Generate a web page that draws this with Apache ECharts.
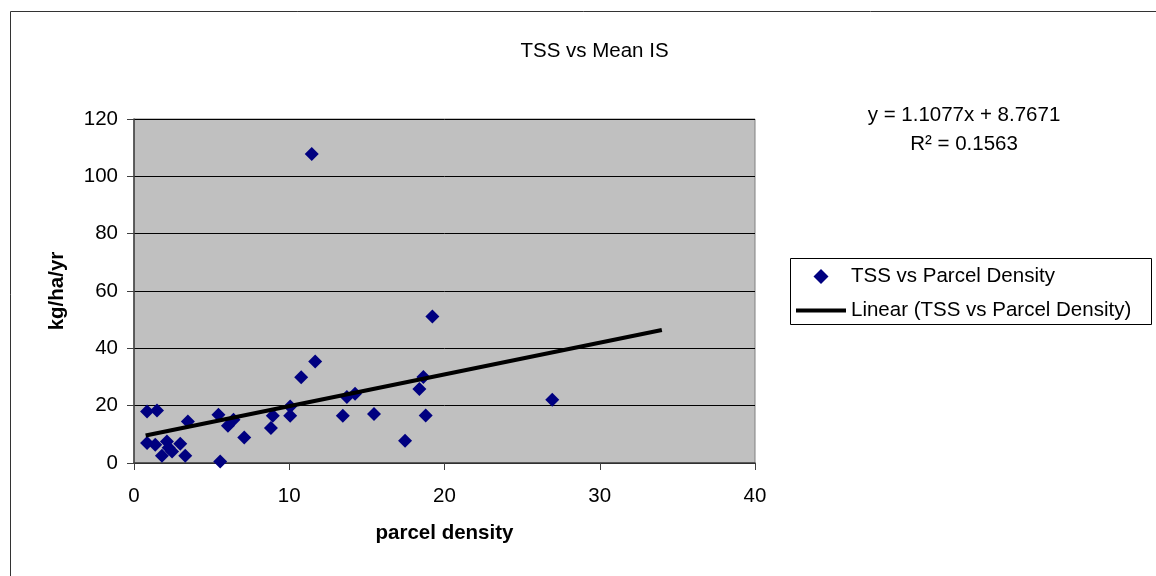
<!DOCTYPE html>
<html>
<head>
<meta charset="utf-8">
<script src="https://cdn.jsdelivr.net/npm/echarts@6/dist/echarts.min.js"></script>
<style>
html,body{margin:0;padding:0;background:#fff;}
#chart{width:1156px;height:576px;}
</style>
</head>
<body>
<div id="chart"></div>
<script>
// Data
const parcelDensity = [0.84,1.48,0.84,1.37,1.80,2.12,2.23,2.45,2.98,3.30,3.47,5.44,5.55,6.05,6.41,7.10,8.82,8.94,10.06,10.06,10.77,11.45,11.67,13.45,13.71,14.24,15.46,17.46,18.38,18.64,18.79,19.22,26.94];
const tss = [18.0,18.3,7.0,6.4,2.5,7.5,5.3,4.0,6.7,2.5,14.5,16.8,0.5,13.0,15.1,8.9,12.2,16.5,16.5,19.7,29.9,107.8,35.4,16.5,23.0,24.2,17.1,7.8,25.8,30.0,16.6,51.1,22.1];
const trendX = [0.75, 34];
const trendY = [9.6, 46.4];
const xTicks = [0, 10, 20, 30, 40];
const yTicks = [0, 20, 40, 60, 80, 100, 120];
const equationText = 'y = 1.1077x + 8.7671';
const r2Text = 'R\u00B2 = 0.1563';
const titleText = 'TSS vs Mean IS';
const seriesName = 'TSS vs Parcel Density';
const trendName = 'Linear (TSS vs Parcel Density)';

const FONT = '"Liberation Sans", Arial, sans-serif';
const FS = 20.5;

const chart = echarts.init(document.getElementById('chart'), null, {renderer: 'canvas'});
const option = {
  animation: false,
  backgroundColor: '#ffffff',
  title: {
    text: titleText,
    left: 589.5,
    textAlign: 'center',
    top: 36,
    textStyle: {fontFamily: FONT, fontSize: FS, fontWeight: 'normal', color: '#000'}
  },
  grid: {
    left: 134, top: 119, right: 401, bottom: 113,
    show: true, backgroundColor: '#C0C0C0', borderColor: '#808080', borderWidth: 1
  },
  xAxis: {
    type: 'value', min: xTicks[0], max: xTicks[xTicks.length - 1], interval: 10,
    name: 'parcel density', nameLocation: 'middle', nameGap: 60,
    nameTextStyle: {fontFamily: FONT, fontSize: FS, fontWeight: 'bold', color: '#000'},
    axisLine: {show: true, onZero: false, lineStyle: {color: '#404040', width: 1.5}},
    axisTick: {show: true, length: 7, lineStyle: {color: '#404040'}},
    axisLabel: {margin: 23, fontFamily: FONT, fontSize: FS, color: '#000'},
    splitLine: {show: false}
  },
  yAxis: {
    type: 'value', min: yTicks[0], max: yTicks[yTicks.length - 1], interval: 20,
    name: 'kg/ha/yr', nameLocation: 'middle', nameGap: 66, nameRotate: 90,
    nameTextStyle: {fontFamily: FONT, fontSize: FS, fontWeight: 'bold', color: '#000'},
    axisLine: {show: true, onZero: false, lineStyle: {color: '#404040', width: 1.5}},
    axisTick: {show: true, length: 7, lineStyle: {color: '#404040'}},
    axisLabel: {margin: 16, fontFamily: FONT, fontSize: FS, color: '#000'},
    splitLine: {show: true, lineStyle: {color: '#000', width: 1}}
  },
  legend: {
    orient: 'vertical', left: 791, top: 261,
    itemWidth: 50, itemHeight: 15, itemGap: 13,
    textStyle: {fontFamily: FONT, fontSize: FS, color: '#000', lineHeight: 20},
    data: [
      {name: seriesName, icon: 'path://M0,0M50,15M17.5,7.5L25,0L32.5,7.5L25,15Z'},
      {name: trendName, icon: 'path://M0,0h50v4h-50z'}
    ]
  },
  graphic: [
    {type: 'rect', shape: {x: 10.5, y: 11.5, width: 1200, height: 700}, style: {fill: 'none', stroke: '#333', lineWidth: 1}, silent: true, z: -1},
    {type: 'rect', shape: {x: 790.5, y: 258.5, width: 361, height: 66}, style: {fill: '#fff', stroke: '#000', lineWidth: 1}, silent: true, z: -1},
    {type: 'text', x: 964, y: 126, style: {text: equationText, font: FS + 'px ' + FONT, fill: '#000', textAlign: 'center', textVerticalAlign: 'bottom'}},
    {type: 'text', x: 964, y: 155, style: {text: r2Text, font: FS + 'px ' + FONT, fill: '#000', textAlign: 'center', textVerticalAlign: 'bottom'}}
  ],
  series: [
    {
      name: seriesName, type: 'scatter', symbol: 'diamond', symbolSize: 14,
      itemStyle: {color: '#000080', opacity: 1},
      data: parcelDensity.map((x, i) => [x, tss[i]]), z: 3
    },
    {
      name: trendName, type: 'line', symbol: 'none',
      lineStyle: {color: '#000', width: 4}, itemStyle: {color: '#000'},
      data: trendX.map((x, i) => [x, trendY[i]]), z: 4
    }
  ]
};
chart.setOption(option);
</script>
</body>
</html>
